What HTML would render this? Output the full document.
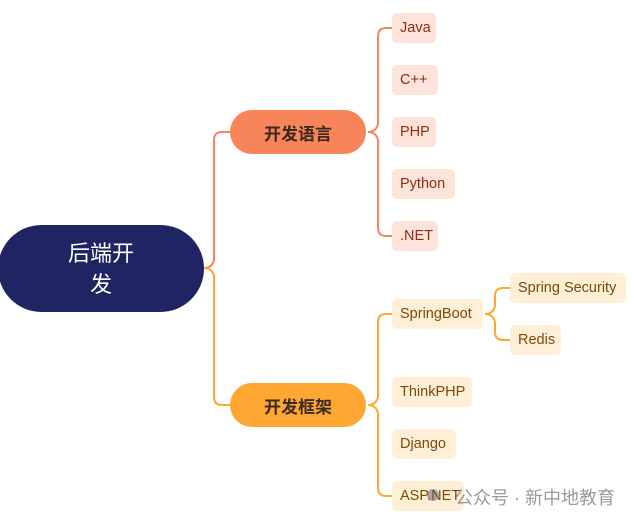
<!DOCTYPE html>
<html><head><meta charset="utf-8"><style>
html,body{margin:0;padding:0;background:#fff;width:634px;height:521px;overflow:hidden;position:relative;font-family:"Liberation Sans","Noto Sans CJK SC",sans-serif}
.n{position:absolute;box-sizing:border-box;display:flex;align-items:center;justify-content:flex-start;padding-left:8px;font-size:14.5px;border-radius:5px;white-space:nowrap}
.o{background:#fee3da;color:#8a2e12}
.y{background:#ffefd6;color:#7a4a08}
.m{justify-content:center;padding-left:0;border-radius:22px;font-weight:bold;font-size:17px;color:#3a2a20}
</style></head><body>
<svg width="634" height="521" style="position:absolute;left:0;top:0">
<g fill="none" stroke-width="2">
<path d="M204 268 Q212 268 214 260 L214 140 Q214 132 222 132 L230 132" stroke="#f8845a"/>
<path d="M204 268 Q212 268 214 276 L214 397 Q214 405 222 405 L230 405" stroke="#ffa733"/>
<path d="M368 132 Q376 132 378 124 L378 36 Q378 28 386 28 L392 28 M378 140 L378 228 Q378 236 386 236 L392 236 M368 132 Q376 132 378 140" stroke="#f8845a"/>
<path d="M368 405 Q376 405 378 397 L378 322 Q378 314 386 314 L392 314 M378 413 L378 488 Q378 496 386 496 L392 496 M368 405 Q376 405 378 413" stroke="#ffa733"/>
<path d="M485 314 Q493 314 495 306 L495 296 Q495 288 503 288 L510 288 M495 322 L495 332 Q495 340 503 340 L510 340 M485 314 Q493 314 495 322" stroke="#ffa733"/>
</g></svg>
<div class="n" style="left:-2px;top:225px;width:206px;height:87px;border-radius:44px;background:#1f2562;color:#fff;font-size:22px;line-height:31px;text-align:center;justify-content:center;white-space:normal;padding:0 60px">后端开<br>发</div>
<div class="n m" style="left:230px;top:110px;width:136px;height:44px;background:#f8845a">开发语言</div>
<div class="n m" style="left:230px;top:383px;width:136px;height:44px;background:#ffa733">开发框架</div>
<div class="n o" style="left:392px;top:13px;width:44px;height:30px">Java</div>
<div class="n o" style="left:392px;top:65px;width:46px;height:30px">C++</div>
<div class="n o" style="left:392px;top:117px;width:44px;height:30px">PHP</div>
<div class="n o" style="left:392px;top:169px;width:63px;height:30px">Python</div>
<div class="n o" style="left:392px;top:221px;width:46px;height:30px">.NET</div>
<div class="n y" style="left:392px;top:299px;width:91px;height:30px">SpringBoot</div>
<div class="n y" style="left:510px;top:273px;width:116px;height:30px">Spring Security</div>
<div class="n y" style="left:510px;top:325px;width:51px;height:30px">Redis</div>
<div class="n y" style="left:392px;top:377px;width:80px;height:30px">ThinkPHP</div>
<div class="n y" style="left:392px;top:429px;width:64px;height:30px">Django</div>
<div class="n y" style="left:392px;top:481px;width:72px;height:30px">ASP.NET</div>
<div style="position:absolute;left:427px;top:489px;width:12px;height:12px;border-radius:6px;background:rgba(90,90,90,0.5)"></div>
<div style="position:absolute;left:455px;top:484px;font-size:18px;color:rgba(120,120,120,0.75);white-space:nowrap">公众号 · 新中地教育</div>
</body></html>
